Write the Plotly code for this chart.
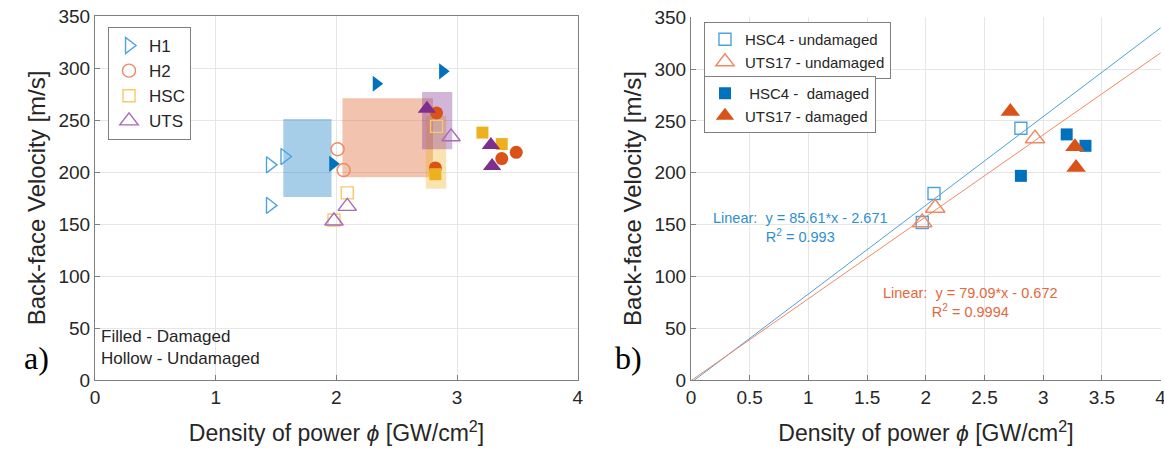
import plotly.graph_objects as go

# ---------------- data: panel a ----------------
h1_hollow_x = [1.45, 1.57, 1.45]
h1_hollow_y = [207, 215, 168]
h1_fill_x = [1.97, 2.33, 2.88]
h1_fill_y = [208, 285, 297]

h2_hollow_x = [2.01, 2.06]
h2_hollow_y = [222, 202]
h2_fill_x = [2.83, 2.82, 3.37, 3.49]
h2_fill_y = [257, 204, 213, 219]

hsc_hollow_x = [2.09, 1.98, 2.83]
hsc_hollow_y = [180, 154, 244]
hsc_fill_x = [2.82, 3.21, 3.37]
hsc_fill_y = [198, 238, 227]

uts_hollow_x = [1.98, 2.09, 2.95]
uts_hollow_y = [153, 167, 234]
uts_fill_x = [2.75, 3.28, 3.29]
uts_fill_y = [261, 226, 206]

# shaded ranges [x0, x1, y0, y1]
box_h1 = [1.56, 1.96, 176, 251]
box_h2 = [2.05, 2.80, 195, 271]
box_hsc = [2.74, 2.91, 184, 254]
box_uts = [2.71, 2.96, 222, 277]

# ---------------- data: panel b ----------------
hsc4_und_x = [1.97, 2.07, 2.81]
hsc4_und_y = [152, 180, 243]
uts17_und_x = [1.97, 2.08, 2.93]
uts17_und_y = [152, 166, 233]
hsc4_dam_x = [2.81, 3.20, 3.36]
hsc4_dam_y = [197, 237, 226]
uts17_dam_x = [2.72, 3.27, 3.28]
uts17_dam_y = [259, 225, 205]

fit_x = [0, 4]
fit_hsc = (85.61, -2.671)
fit_uts = (79.09, -0.672)

x_ticks_a = [0, 1, 2, 3, 4]
x_ticks_b = [0, 0.5, 1, 1.5, 2, 2.5, 3, 3.5, 4]
x_ticklabels_b = ["0", "0.5", "1", "1.5", "2", "2.5", "3", "3.5", "4"]
y_ticks = [0, 50, 100, 150, 200, 250, 300, 350]

BLUE = "#0072BD"
ORANGE = "#D95319"
YELLOW = "#EDB120"
PURPLE = "#7E2F8E"
BLUE_L = "#4FA3DB"
ORANGE_L = "#EE8A63"
YELLOW_L = "#F5CB66"
PURPLE_L = "#A969B8"

FONT = "Liberation Sans, Arial, sans-serif"
TXT = "#262626"

fig = go.Figure()

# shaded boxes (panel a) as filled scatter traces
for b, col in [(box_h1, "rgba(0,114,189,0.35)"), (box_h2, "rgba(217,83,25,0.35)"),
               (box_hsc, "rgba(237,177,32,0.35)"), (box_uts, "rgba(126,47,142,0.35)")]:
    fig.add_trace(go.Scatter(x=[b[0], b[1], b[1], b[0], b[0]], y=[b[2], b[2], b[3], b[3], b[2]],
                             fill="toself", fillcolor=col, mode="none", showlegend=False,
                             hoverinfo="skip", xaxis="x", yaxis="y"))

def sc(x, y, sym, col, size, name=None, show=False, legend="legend", xa="x", ya="y", lw=1.4):
    fig.add_trace(go.Scatter(x=x, y=y, mode="markers", name=name, showlegend=show, legend=legend,
                             xaxis=xa, yaxis=ya,
                             marker=dict(symbol=sym, color=col, size=size, line=dict(color=col, width=lw))))

# panel a
sc(h1_hollow_x, h1_hollow_y, "triangle-right-open", BLUE_L, 14, "H1", True)
sc(h2_hollow_x, h2_hollow_y, "circle-open", ORANGE_L, 13, "H2", True)
sc(hsc_hollow_x, hsc_hollow_y, "square-open", YELLOW_L, 12, "HSC", True)
sc(uts_hollow_x, uts_hollow_y, "triangle-up-open", PURPLE_L, 16, "UTS", True)
sc(h1_fill_x, h1_fill_y, "triangle-right", BLUE, 14, lw=0)
sc(h2_fill_x, h2_fill_y, "circle", ORANGE, 13, lw=0)
sc(hsc_fill_x, hsc_fill_y, "square", YELLOW, 12, lw=0)
sc(uts_fill_x, uts_fill_y, "triangle-up", PURPLE, 16, lw=0)

# panel b fits
fig.add_trace(go.Scatter(x=fit_x, y=[fit_hsc[0] * v + fit_hsc[1] for v in fit_x], mode="lines",
                         line=dict(color="#4DA0D8", width=1), showlegend=False, xaxis="x2", yaxis="y2"))
fig.add_trace(go.Scatter(x=fit_x, y=[fit_uts[0] * v + fit_uts[1] for v in fit_x], mode="lines",
                         line=dict(color="#EE8A63", width=1), showlegend=False, xaxis="x2", yaxis="y2"))

sc(hsc4_und_x, hsc4_und_y, "square-open", BLUE_L, 12, "HSC4 - undamaged", True, "legend2", "x2", "y2")
sc(uts17_und_x, uts17_und_y, "triangle-up-open", ORANGE_L, 17, "UTS17 - undamaged", True, "legend2", "x2", "y2")
sc(hsc4_dam_x, hsc4_dam_y, "square", BLUE, 12, " HSC4 -  damaged", True, "legend3", "x2", "y2", lw=0)
sc(uts17_dam_x, uts17_dam_y, "triangle-up", ORANGE, 17, "UTS17 - damaged", True, "legend3", "x2", "y2", lw=0)

axis_common = dict(showgrid=True, gridcolor="#E6E6E6", gridwidth=1, zeroline=False,
                   showline=True, linecolor="#7F7F7F", linewidth=1, ticks="inside",
                   ticklen=5, tickcolor="#7F7F7F", automargin=False, ticklabeloverflow="allow",
                   tickfont=dict(family=FONT, size=19, color=TXT))

xtitle = dict(text="Density of power <i>ϕ</i> [GW/cm<sup>2</sup>]", font=dict(family=FONT, size=23, color=TXT), standoff=18)
ytitle = dict(text="Back-face Velocity [m/s]", font=dict(family=FONT, size=24, color=TXT), standoff=6)

fig.update_layout(
    width=1164, height=456, margin=dict(l=0, r=0, t=0, b=0, autoexpand=False),
    paper_bgcolor="white", plot_bgcolor="white",
    xaxis=dict(domain=[0.0816, 0.4966], range=[0, 4.002], tickvals=x_ticks_a, mirror=True,
               title=xtitle, anchor="y", **axis_common),
    yaxis=dict(domain=[0.1667, 0.9649], range=[0, 350.2], tickvals=y_ticks, mirror=True,
               title=ytitle, anchor="x", **axis_common),
    xaxis2=dict(domain=[0.5936, 0.9974], range=[0, 4.003], tickvals=x_ticks_b, ticktext=x_ticklabels_b,
                title=xtitle, anchor="y2", **axis_common),
    yaxis2=dict(domain=[0.1667, 0.9625], range=[0, 350.2], tickvals=y_ticks,
                title=ytitle, anchor="x2", **axis_common),
    legend=dict(x=0.0928, y=0.9408, xanchor="left", yanchor="top", bgcolor="white",
                bordercolor="#7F7F7F", borderwidth=1, font=dict(family=FONT, size=17, color=TXT),
                itemwidth=30, tracegroupgap=0),
    legend2=dict(x=0.6048, y=1 - 22 / 456, xanchor="left", yanchor="top", bgcolor="white",
                 bordercolor="#7F7F7F", borderwidth=1, font=dict(family=FONT, size=15, color=TXT),
                 itemwidth=30, tracegroupgap=0),
    legend3=dict(x=0.6048, y=1 - 76 / 456, xanchor="left", yanchor="top", bgcolor="white",
                 bordercolor="#7F7F7F", borderwidth=1, font=dict(family=FONT, size=15, color=TXT),
                 itemwidth=30, tracegroupgap=0),
    showlegend=True,
)

ann = [
    dict(x=0.03, y=10, xref="x", yref="y", text="Filled - Damaged<br>Hollow - Undamaged", showarrow=False,
         xanchor="left", yanchor="bottom", align="left", font=dict(family=FONT, size=17, color=TXT)),
    dict(x=0.93, y=147, xref="x2", yref="y2", text="Linear:  y = 85.61*x - 2.671<br>R<sup>2</sup> = 0.993",
         showarrow=False, align="center", font=dict(family=FONT, size=14.5, color="#2E8FD0")),
    dict(x=2.38, y=75, xref="x2", yref="y2", text="Linear:  y = 79.09*x - 0.672<br>R<sup>2</sup> = 0.9994",
         showarrow=False, align="center", font=dict(family=FONT, size=14.5, color="#E3683A")),
    dict(x=22 / 1164, y=1 - 378 / 456, xref="paper", yref="paper", text="a)", showarrow=False,
         font=dict(family="Liberation Serif, Times New Roman, serif", size=32, color="black")),
    dict(x=628 / 1164, y=1 - 378 / 456, xref="paper", yref="paper", text="b)", showarrow=False,
         font=dict(family="Liberation Serif, Times New Roman, serif", size=32, color="black")),
]
fig.update_layout(annotations=ann)

fig.write_html("out.html", config={"displayModeBar": False},
               post_script="document.body.style.margin='0';document.body.style.overflow='hidden';")
